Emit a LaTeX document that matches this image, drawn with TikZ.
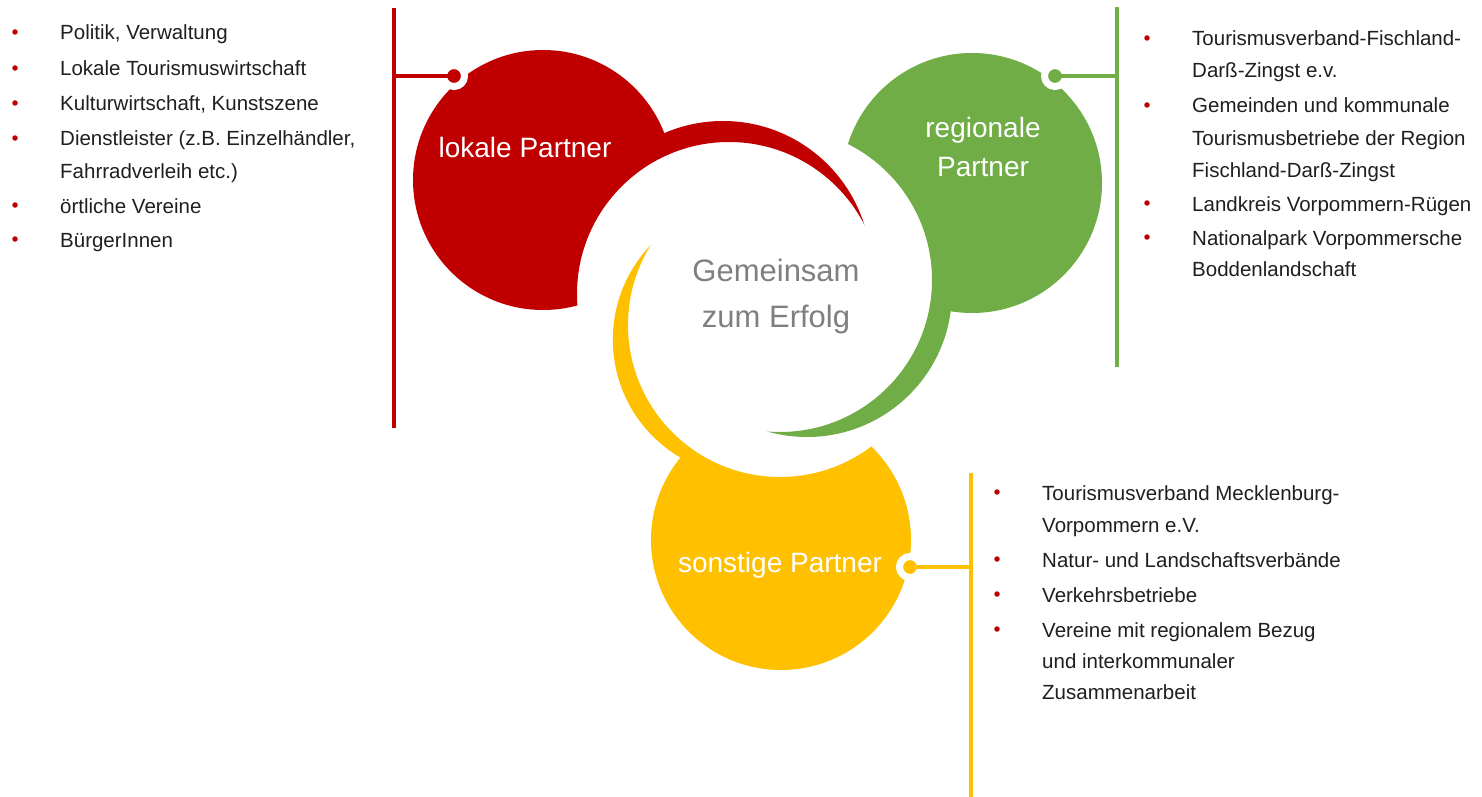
\documentclass[tikz,border=0pt]{standalone}
\usepackage{fontspec}
\setmainfont{Liberation Sans}
\usetikzlibrary{positioning}
\definecolor{lokred}{HTML}{C00000}
\definecolor{reggreen}{HTML}{70AD47}
\definecolor{sonyellow}{HTML}{FFC000}
\definecolor{midgray}{HTML}{7F7F7F}
\definecolor{listtext}{HTML}{1F1F1F}

\begin{document}
\begin{tikzpicture}[x=1pt,y=-1pt,
      partlabel/.style={
         text=white,
         inner sep=0pt,
         align=center,
         font=\fontsize{28}{39}\selectfont},
      listitem/.style={
         anchor=base west,
         inner sep=0pt,
         text=listtext,
         font=\fontsize{20.5}{32}\selectfont},
      bulletdot/.style={circle,fill=lokred,inner sep=0pt,minimum size=5.5pt},
      knob/.style={circle,fill=#1,draw=white,line width=7pt,inner sep=0pt,minimum size=21pt},
      stem/.style={#1,line width=3.3pt}
      ]
\useasboundingbox (0,0) rectangle (1482,797);

% the three swirl parts, each cut by its own inner circle
\begin{scope}
  \clip (-10,-10) -- (1500,-10) -- (1500,810) -- (-10,810) -- cycle
        (729,294) ++(152,0) arc[start angle=0,end angle=-360,radius=152];
  \fill[lokred] (543,180) circle[radius=130] (723,269) circle[radius=148];
\end{scope}
\begin{scope}
  \clip (-10,-10) -- (1500,-10) -- (1500,810) -- (-10,810) -- cycle
        (780,280) ++(152,0) arc[start angle=0,end angle=-360,radius=152];
  \fill[reggreen] (972,183) circle[radius=130] (807,292) circle[radius=145];
\end{scope}
\begin{scope}
  \clip (-10,-10) -- (1500,-10) -- (1500,810) -- (-10,810) -- cycle
        (780,325) ++(152,0) arc[start angle=0,end angle=-360,radius=152];
  \fill[sonyellow] (781,540) circle[radius=130] (749.5,339.6) circle[radius=136.7];
\end{scope}

\node[partlabel] (lok) at (525,147) {lokale Partner};
\node[partlabel] (reg) at (983,147) {regionale\\Partner};
\node[partlabel] (son) at (780,565) {sonstige Partner};
\node[text=midgray,inner sep=0pt,align=center,font=\fontsize{31}{46}\selectfont]
   (mid) at (776,296) {Gemeinsam\\zum Erfolg};

% knobs and stems
\node[knob=lokred] (lokknob) at (454,76) {};
\node[knob=reggreen] (regknob) at (1055,76) {};
\node[knob=sonyellow] (sonknob) at (910,567) {};
\coordinate (loktop) at (394,8);
\coordinate (lokbot) at (394,428);
\coordinate (lokjoin) at (394,76);
\coordinate (regtop) at (1117,7);
\coordinate (regbot) at (1117,367);
\coordinate (regjoin) at (1117,76);
\coordinate (sontop) at (971,473);
\coordinate (sonbot) at (971,797);
\coordinate (sonjoin) at (971,567);

\draw[stem=lokred] (loktop) -- (lokbot);
\draw[stem=lokred] (lokknob.center) -- (lokjoin);
\draw[stem=reggreen] (regtop) -- (regbot);
\draw[stem=reggreen] (regknob.center) -- (regjoin);
\draw[stem=sonyellow] (sontop) -- (sonbot);
\draw[stem=sonyellow] (sonknob.center) -- (sonjoin);

% lists: name/baseline/text
\foreach \n/\y/\txt in {1/40/{Politik, Verwaltung},
      2/76/Lokale Tourismuswirtschaft,
      3/111/{Kulturwirtschaft, Kunstszene},
      4/146/{Dienstleister (z.B. Einzelhändler,},
      5/178/Fahrradverleih etc.),
      6/213/örtliche Vereine,
      7/247/BürgerInnen}
   \node[listitem] (lokt\n) at (60,\y) {\txt};
\foreach \n/\y in {1/40,2/76,3/111,4/146,6/213,7/247}
   \node[bulletdot] (lokb\n) at (15,\y-8) {};

\foreach \n/\y/\txt in {1/46/Tourismusverband-Fischland-,
      2/78/Darß-Zingst e.v.,
      3/113/Gemeinden und kommunale,
      4/146/Tourismusbetriebe der Region,
      5/177/Fischland-Darß-Zingst,
      6/211/Landkreis Vorpommern-Rügen,
      7/245/Nationalpark Vorpommersche,
      8/276/Boddenlandschaft}
   \node[listitem] (regt\n) at (1192,\y) {\txt};
\foreach \n/\y in {1/46,3/113,6/211,7/245}
   \node[bulletdot] (regb\n) at (1147,\y-8) {};

\foreach \n/\y/\txt in {1/500/Tourismusverband Mecklenburg-,
      2/532/Vorpommern e.V.,
      3/567/Natur- und Landschaftsverbände,
      4/602/Verkehrsbetriebe,
      5/637/Vereine mit regionalem Bezug,
      6/668/und interkommunaler,
      7/699/Zusammenarbeit}
   \node[listitem] (sont\n) at (1042,\y) {\txt};
\foreach \n/\y in {1/500,3/567,4/602,5/637}
   \node[bulletdot] (sonb\n) at (997,\y-8) {};
\end{tikzpicture}
\end{document}
